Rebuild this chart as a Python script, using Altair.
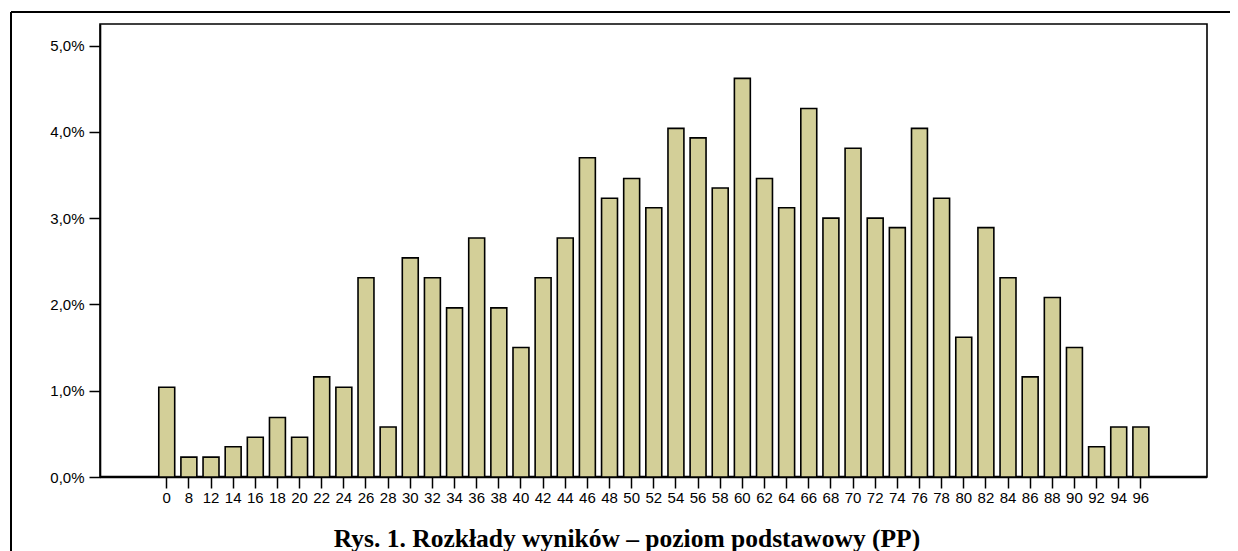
import altair as alt
import pandas as pd

# Score categories (x axis) and share of results in percent (y axis)
scores = ["0", "8", "12", "14", "16", "18", "20", "22", "24", "26", "28", "30",
          "32", "34", "36", "38", "40", "42", "44", "46", "48", "50", "52", "54",
          "56", "58", "60", "62", "64", "66", "68", "70", "72", "74", "76", "78",
          "80", "82", "84", "86", "88", "90", "92", "94", "96"]
percent = [1.04, 0.23, 0.23, 0.35, 0.46, 0.69, 0.46, 1.16, 1.04, 2.31, 0.58, 2.54,
           2.31, 1.96, 2.77, 1.96, 1.50, 2.31, 2.77, 3.70, 3.23, 3.46, 3.12, 4.04,
           3.93, 3.35, 4.62, 3.46, 3.12, 4.27, 3.00, 3.81, 3.00, 2.89, 4.04, 3.23,
           1.62, 2.89, 2.31, 1.16, 2.08, 1.50, 0.35, 0.58, 0.58]
y_ticks = [0.0, 0.01, 0.02, 0.03, 0.04, 0.05]
title_text = ["Rys. 1. Rozkłady wyników – poziom podstawowy (PP)"]

df = pd.DataFrame({"wynik": scores, "odsetek": [p / 100 for p in percent]})
frame_df = pd.DataFrame({"k": [0]})
title_df = pd.DataFrame({"tytul": title_text})

W, H = 1107, 453

bars = alt.Chart(df).mark_bar(
    fill="#d3cf98", stroke="#000000", strokeWidth=1.6
).encode(
    x=alt.X(
        "wynik:N", sort=scores, title=None,
        scale=alt.Scale(paddingInner=0.28, paddingOuter=0.5, range=[47.7, 1059.9]),
        axis=alt.Axis(
            labelAngle=0, labelFont="Liberation Sans", labelFontSize=15,
            labelColor="#000000", tickColor="#000000", tickSize=11, tickWidth=1.5,
            labelPadding=2, domain=False,
        ),
    ),
    y=alt.Y(
        "odsetek:Q", title=None,
        scale=alt.Scale(domain=[0, 0.0525], nice=False, zero=True),
        axis=alt.Axis(
            values=y_ticks, grid=False,
            labelExpr="replace(format(datum.value, '.1%'), '.', ',')",
            labelFont="Liberation Sans", labelFontSize=15, labelColor="#000000",
            tickColor="#000000", tickSize=11, tickWidth=1.5, labelPadding=5,
            domainColor="#000000", domainWidth=1.6,
        ),
    ),
)

left_rule = alt.Chart(frame_df).mark_rule(color="#000000", strokeWidth=2).encode(
    x=alt.value(-89), y=alt.value(-12), y2=alt.value(H + 80)
)
top_rule = alt.Chart(frame_df).mark_rule(color="#000000", strokeWidth=2).encode(
    x=alt.value(-89), x2=alt.value(W + 200), y=alt.value(-12)
)
bottom_rule = alt.Chart(frame_df).mark_rule(color="#000000", strokeWidth=2.4).encode(
    x=alt.value(0), x2=alt.value(W), y=alt.value(H)
)
title = alt.Chart(title_df).mark_text(
    font="Liberation Serif", fontSize=25.5, fontWeight="bold", color="#000000",
    align="center", baseline="alphabetic",
).encode(text="tytul:N", x=alt.value(527), y=alt.value(523))

chart = alt.layer(left_rule, top_rule, bottom_rule, bars, title).properties(
    width=W,
    height=H,
    autosize="none",
    padding={"left": 92, "top": 16, "right": 23, "bottom": 74},
).configure_view(stroke="#000000", strokeWidth=1.6)

chart.save("out.html", embed_options={"renderer": "svg", "actions": False})
